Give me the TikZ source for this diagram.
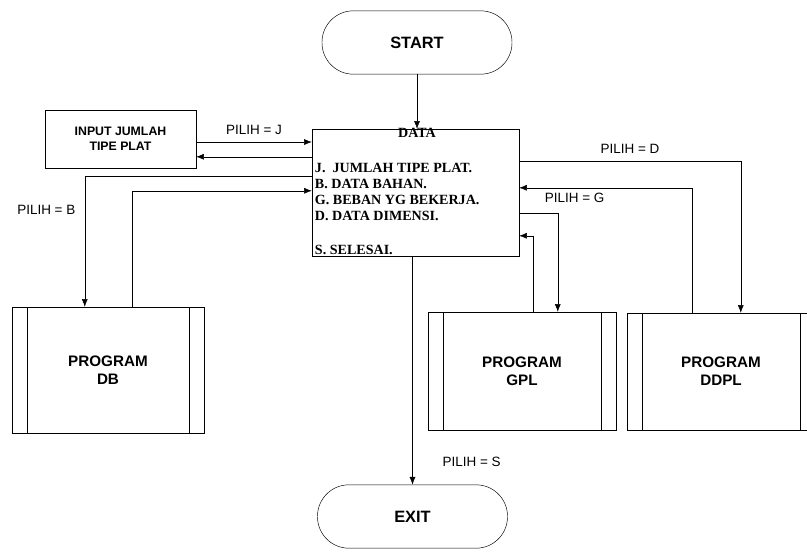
\documentclass[tikz,border=0pt]{standalone}
\usepackage{fontspec}
\setmainfont{Liberation Sans}
\newfontfamily\menufont{Liberation Serif}
\usetikzlibrary{arrows.meta, positioning, calc}

\begin{document}
\begin{tikzpicture}[
        x=0.03cm, y=-0.03cm,
        term/.style={rectangle, draw=black, rounded corners=0.94cm, minimum width=5.7cm, minimum height=1.9cm, font=\fontsize{14}{16}\selectfont\bfseries},
        box/.style={rectangle, draw=black, align=center, font=\fontsize{10.5}{12.8}\selectfont\bfseries},
        prog/.style={rectangle, draw=black, minimum width=5.64cm, minimum height=3.54cm, align=center, font=\fontsize{13}{15.6}\selectfont\bfseries,
            path picture={
                \draw ([xshift=0.45cm]path picture bounding box.north west) -- ([xshift=0.45cm]path picture bounding box.south west);
                \draw ([xshift=-0.45cm]path picture bounding box.north east) -- ([xshift=-0.45cm]path picture bounding box.south east);
            }},
        menu/.style={inner sep=0pt, align=left, font=\menufont\bfseries\fontsize{12}{13.6}\selectfont},
        lbl/.style={font=\fontsize{11.5}{13}\selectfont},
        arrow/.style={-{Latex[length=6.5pt,width=5pt]}, draw=black}
    ]
    \useasboundingbox (0,0) rectangle (807,551);

    \node[term] (start) at (417,42.5) {START};
    \node[rectangle, draw=black, minimum width=6.21cm, minimum height=3.81cm] (data) at (415.5,192.5) {};
    \node[menu] (datatitle) at ($(data.north)+(1.5,4)$) {DATA};
    \node[menu, anchor=north west] (choices) at ($(data.north west)+(3,34)$) {J.\ \ JUMLAH TIPE PLAT.\\B. DATA BAHAN.\\G. BEBAN YG BEKERJA.\\D. DATA DIMENSI.};
    \node[menu, anchor=base west] (selesai) at ($(data.south west)+(3,-2)$) {S. SELESAI.};
    \node[box, minimum width=4.53cm, minimum height=1.74cm] (input) at (120.5,139) {INPUT JUMLAH\\TIPE PLAT};
    \node[prog, minimum width=5.76cm, minimum height=3.78cm] (db) at (108,370) {PROGRAM\\DB};
    \node[prog] (gpl) at (522,371) {PROGRAM\\GPL};
    \node[prog, minimum height=3.51cm] (ddpl) at (721,371.5) {PROGRAM\\DDPL};
    \node[term] (exit) at (412.5,516.5) {EXIT};

    % ports on the menu box
    \coordinate (jout) at ($(input.east)+(0,3)$);
    \coordinate (jback) at ($(data.north west)+(0,28)$);
    \coordinate (bout) at ($(data.north west)+(0,47)$);
    \coordinate (bin) at ($(data.north west)+(0,62)$);
    \coordinate (dout) at ($(data.north east)+(0,32)$);
    \coordinate (din) at ($(data.north east)+(0,59)$);
    \coordinate (gout) at ($(data.north east)+(0,84)$);
    \coordinate (gin) at ($(data.north east)+(0,107)$);
    % ports on the program boxes
    \coordinate (dbin) at ($(db.north west)+(73,0)$);
    \coordinate (dbout) at ($(db.north west)+(120,0)$);
    \coordinate (gplin) at ($(gpl.north west)+(130,0)$);
    \coordinate (gplout) at ($(gpl.north west)+(105,0)$);
    \coordinate (ddplin) at ($(ddpl.north west)+(114,0)$);
    \coordinate (ddplout) at ($(ddpl.north west)+(65,0)$);

    \draw[arrow] (start.south) -- (start.south |- data.north);
    \draw[arrow] (jout) -- node[lbl, above=3pt] {PILIH = J} (jout -| data.west);
    \draw[arrow] (jback) -- (jback -| input.east);
    \draw[arrow] (bout) -| node[lbl, pos=0.63, left=4.5pt] {PILIH = B} (dbin);
    \draw[arrow] (dbout) |- (bin);
    \draw[arrow] (dout) -| node[lbl, pos=0.25, above=3pt] {PILIH = D} (ddplin);
    \draw[arrow] (ddplout) |- (din);
    \draw[arrow] (gout) -| (gplin);
    \node[lbl, anchor=west] (labelg) at ($(gout)+(21.5,-15)$) {PILIH = G};
    \draw[arrow] (gplout) |- (gin);
    \draw[arrow] (exit.north |- data.south) -- node[lbl, pos=0.9, right=0.78cm] {PILIH = S} (exit.north);
\end{tikzpicture}
\end{document}
